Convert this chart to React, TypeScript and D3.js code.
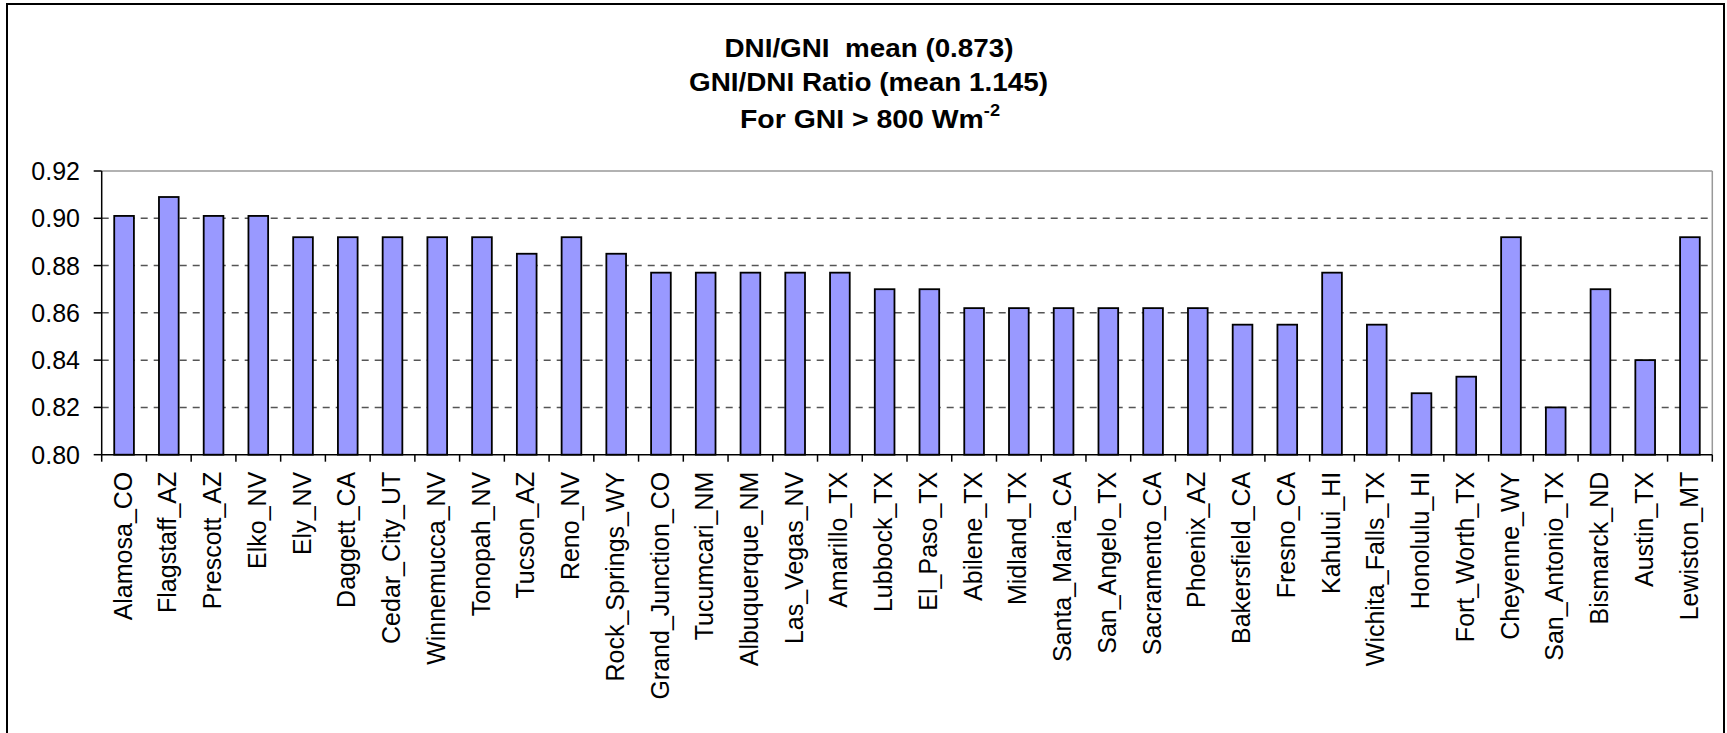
import React from "react";
import * as d3 from "d3";

const categories = [
  "Alamosa_CO", "Flagstaff_AZ", "Prescott_AZ", "Elko_NV", "Ely_NV", "Daggett_CA",
  "Cedar_City_UT", "Winnemucca_NV", "Tonopah_NV", "Tucson_AZ", "Reno_NV", "Rock_Springs_WY",
  "Grand_Junction_CO", "Tucumcari_NM", "Albuquerque_NM", "Las_Vegas_NV", "Amarillo_TX",
  "Lubbock_TX", "El_Paso_TX", "Abilene_TX", "Midland_TX", "Santa_Maria_CA", "San_Angelo_TX",
  "Sacramento_CA", "Phoenix_AZ", "Bakersfield_CA", "Fresno_CA", "Kahului_HI", "Wichita_Falls_TX",
  "Honolulu_HI", "Fort_Worth_TX", "Cheyenne_WY", "San_Antonio_TX", "Bismarck_ND", "Austin_TX",
  "Lewiston_MT",
];

const ratioValues = [
  0.901, 0.909, 0.901, 0.901, 0.892, 0.892,
  0.892, 0.892, 0.892, 0.885, 0.892, 0.885,
  0.877, 0.877, 0.877, 0.877, 0.877,
  0.870, 0.870, 0.862, 0.862, 0.862, 0.862,
  0.862, 0.862, 0.855, 0.855, 0.877, 0.855,
  0.826, 0.833, 0.892, 0.820, 0.870, 0.840,
  0.892,
];

const yTicks = [0.8, 0.82, 0.84, 0.86, 0.88, 0.9, 0.92];

const titleLines = ["DNI/GNI\u00a0 mean (0.873)", "GNI/DNI Ratio (mean 1.145)"];
const titleLine3 = "For GNI > 800 Wm";
const titleSup = "-2";

const W = 1727;
const H = 733;
const plot = { left: 101.7, right: 1712.3, top: 171, bottom: 454.7 };
const FONT = "'Liberation Sans', Arial, sans-serif";

export default function App() {
  const x = d3
    .scaleBand<string>()
    .domain(categories)
    .range([plot.left, plot.right])
    .padding(0);
  const y = d3.scaleLinear().domain([0.8, 0.92]).range([plot.bottom, plot.top]);
  const bw = x.bandwidth() * 0.44;
  const boundaries = categories.map((c) => x(c)!).concat([plot.right]);

  return (
    <svg
      width={W}
      height={H}
      style={{ position: "absolute", left: 0, top: 0, background: "#fff" }}
      fontFamily={FONT}
    >
      <rect x={0} y={0} width={W} height={H} fill="#fff" />
      {/* outer frame */}
      <rect x={7} y={4} width={1717} height={800} fill="none" stroke="#000" strokeWidth={2} />

      {/* title */}
      <g fontWeight="bold" fontSize={25} textAnchor="middle" fill="#000">
        <text x={869} y={57.3} textLength={289} lengthAdjust="spacingAndGlyphs">
          {titleLines[0]}
        </text>
        <text x={868.5} y={90.7} textLength={359} lengthAdjust="spacingAndGlyphs">
          {titleLines[1]}
        </text>
        <text x={870} y={127.7} textLength={260} lengthAdjust="spacingAndGlyphs">
          {titleLine3}
          <tspan fontSize={16} dy={-12}>
            {titleSup}
          </tspan>
        </text>
      </g>

      {/* plot border top/right */}
      <line x1={plot.left} x2={plot.right} y1={plot.top} y2={plot.top} stroke="#999" strokeWidth={1.5} />
      <line x1={plot.right} x2={plot.right} y1={plot.top} y2={plot.bottom} stroke="#999" strokeWidth={1.5} />

      {/* gridlines */}
      {yTicks
        .filter((t) => t > 0.8 && t < 0.92)
        .map((t) => (
          <line
            key={"g" + t}
            x1={plot.left}
            x2={plot.right}
            y1={y(t)}
            y2={y(t)}
            stroke="#555"
            strokeWidth={1.5}
            strokeDasharray="7,6"
          />
        ))}

      {/* bars */}
      {categories.map((c, i) => {
        const cx = x(c)! + x.bandwidth() / 2;
        return (
          <rect
            key={c}
            x={cx - bw / 2}
            y={y(ratioValues[i])}
            width={bw}
            height={y(0.8) - y(ratioValues[i])}
            fill="#9999FF"
            stroke="#000"
            strokeWidth={1.8}
          />
        );
      })}

      {/* y axis */}
      <line x1={plot.left} x2={plot.left} y1={plot.top} y2={plot.bottom} stroke="#000" strokeWidth={1.5} />
      {yTicks.map((t) => (
        <g key={"yt" + t}>
          <line x1={plot.left - 8} x2={plot.left} y1={y(t)} y2={y(t)} stroke="#000" strokeWidth={1.5} />
          <text x={80} y={y(t) + 9} textAnchor="end" fontSize={25} fill="#000">
            {d3.format(".2f")(t)}
          </text>
        </g>
      ))}

      {/* x axis */}
      <line x1={plot.left} x2={plot.right} y1={plot.bottom} y2={plot.bottom} stroke="#000" strokeWidth={1.5} />
      {boundaries.map((bx, i) => (
        <line key={"xt" + i} x1={bx} x2={bx} y1={plot.bottom} y2={plot.bottom + 7} stroke="#000" strokeWidth={1.5} />
      ))}
      {categories.map((c) => {
        const cx = x(c)! + x.bandwidth() / 2;
        return (
          <text
            key={"l" + c}
            transform={`translate(${cx + 7.6},${plot.bottom + 17}) rotate(-90)`}
            textAnchor="end"
            fontSize={25}
            fill="#000"
          >
            {c}
          </text>
        );
      })}
    </svg>
  );
}
